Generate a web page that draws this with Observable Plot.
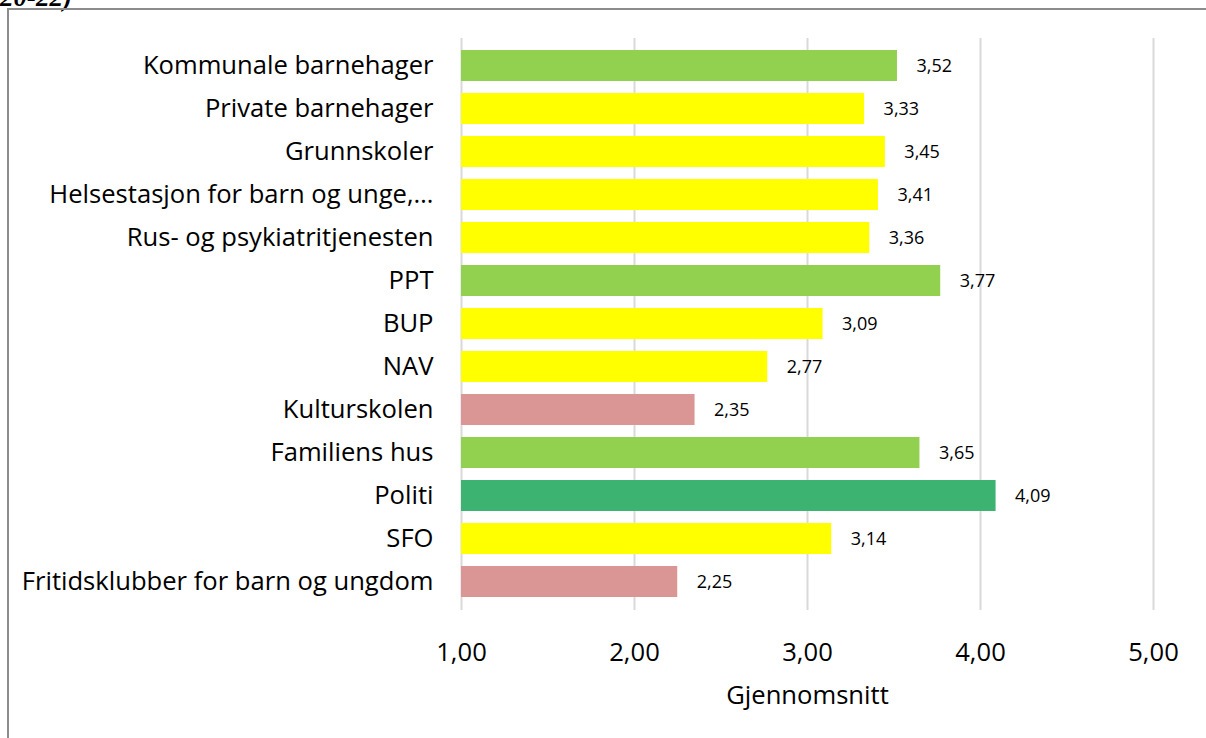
<!DOCTYPE html>
<html>
<head>
<meta charset="utf-8">
<script src="https://cdn.jsdelivr.net/npm/d3@7"></script>
<script src="https://cdn.jsdelivr.net/npm/@observablehq/plot@0.6"></script>
<style>
  html, body { margin: 0; padding: 0; background: #fff; overflow: hidden; }
  #wrap { position: relative; width: 1206px; height: 738px; overflow: hidden; }
  #title { position: absolute; left: 0; top: -16px; font-family: "Liberation Serif", serif; font-weight: bold; font-style: italic; font-size: 27px; line-height: 1; color: #000; white-space: nowrap; }
  #box { position: absolute; left: 7px; top: 8px; width: 1210px; height: 760px; border: 2px solid #8c8c8c; box-sizing: border-box; }
  #chart { position: absolute; left: 0; top: 0; }
</style>
</head>
<body>
<div id="wrap">
  <div id="title">20-22)</div>
  <div id="box"></div>
  <div id="chart"></div>
</div>
<script>
const categories = [
  "Kommunale barnehager",
  "Private barnehager",
  "Grunnskoler",
  "Helsestasjon for barn og unge,…",
  "Rus- og psykiatritjenesten",
  "PPT",
  "BUP",
  "NAV",
  "Kulturskolen",
  "Familiens hus",
  "Politi",
  "SFO",
  "Fritidsklubber for barn og ungdom"
];
const values = [3.52, 3.33, 3.45, 3.41, 3.36, 3.77, 3.09, 2.77, 2.35, 3.65, 4.09, 3.14, 2.25];
const colors = ["#92D050", "#FFFF00", "#FFFF00", "#FFFF00", "#FFFF00", "#92D050", "#FFFF00", "#FFFF00", "#DA9694", "#92D050", "#3CB371", "#FFFF00", "#DA9694"];
const xTicks = [1, 2, 3, 4, 5];
const xLabel = "Gjennomsnitt";

const data = categories.map((c, i) => ({ cat: c, value: values[i], color: colors[i] }));
const fmt = d => d.toFixed(2).replace(".", ",");
const font = "'Open Sans', sans-serif";

const chart = Plot.plot({
  width: 1206,
  height: 738,
  marginLeft: 461,
  marginRight: 53,
  marginTop: 38,
  marginBottom: 128,
  style: { fontFamily: font, color: "#000", background: "transparent" },
  x: { domain: [1, 5] },
  y: { domain: categories, padding: 0.27 },
  marks: [
    Plot.gridX(xTicks, { stroke: "#d9d9d9", strokeOpacity: 1, strokeWidth: 2 }),
    Plot.barX(data, { x1: 1, x2: "value", y: "cat", fill: "color" }),
    Plot.text(data, { x: "value", y: "cat", text: d => fmt(d.value), textAnchor: "start", dx: 19, fontSize: 18, fill: "#000" }),
    Plot.axisY({ tickSize: 0, tickPadding: 28, fontSize: 25.6, label: null }),
    Plot.axisX({ ticks: xTicks, tickFormat: fmt, tickSize: 0, tickPadding: 32, fontSize: 25.6, label: xLabel, labelAnchor: "center", labelArrow: "none", labelOffset: 93 })
  ]
});
document.getElementById("chart").appendChild(chart);
</script>
</body>
</html>
